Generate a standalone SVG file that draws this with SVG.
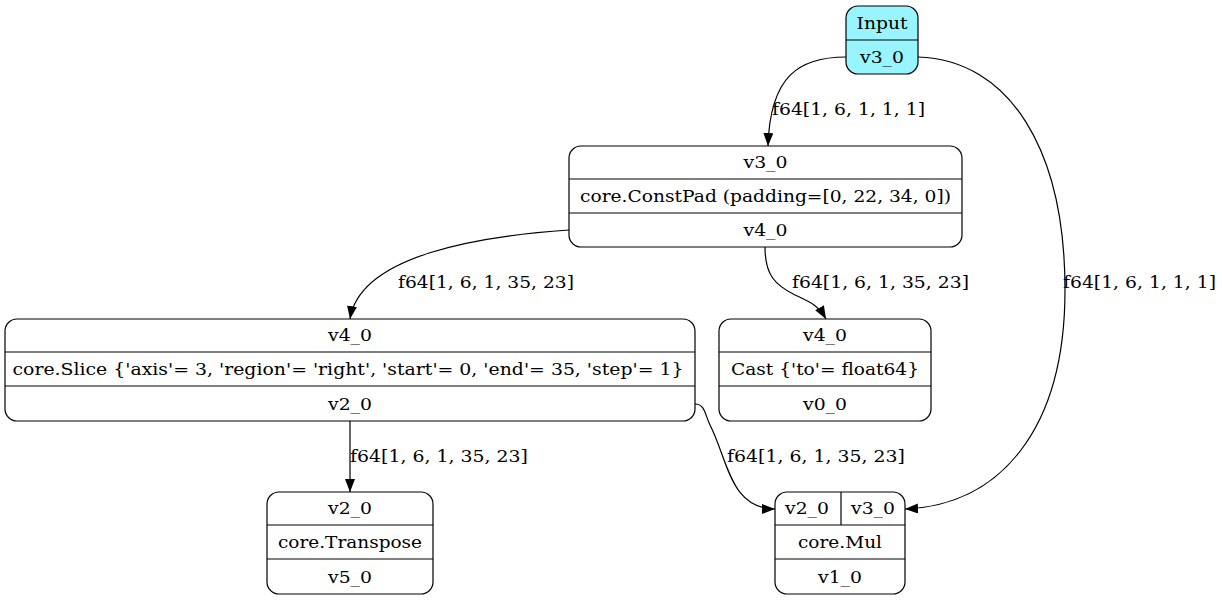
<svg xmlns="http://www.w3.org/2000/svg" width="1222" height="601" viewBox="0 0 1222 601">
<style>
text{font-family:"DejaVu Serif","Liberation Serif",serif;font-size:17px;fill:#000;text-anchor:middle}
.box{fill:#fff;stroke:#000;stroke-width:1.2}
.in{fill:#98f5ff}
.ln{stroke:#000;stroke-width:1.2;fill:none}
.e{stroke:#000;stroke-width:1.2;fill:none;marker-end:url(#ah)}
.lbl{text-anchor:start}
</style>
<defs>
<marker id="ah" markerUnits="userSpaceOnUse" markerWidth="14" markerHeight="12" refX="13" refY="5" orient="auto">
<path d="M0,0 L13,5 L0,10 Z" fill="#000"/>
</marker>
</defs>
<g id="connectors">
<path class="e" d="M846,57 C800,57 770,75 768,146"/>
<text class="lbl" x="772" y="115" textLength="153" lengthAdjust="spacingAndGlyphs">f64[1, 6, 1, 1, 1]</text>
<path class="e" d="M918,57 C1010,60 1065,150 1065,290 C1065,430 1000,505 905,509"/>
<text class="lbl" x="1063" y="288" textLength="153" lengthAdjust="spacingAndGlyphs">f64[1, 6, 1, 1, 1]</text>
<path class="e" d="M569,230 C480,236 360,255 350,319"/>
<text class="lbl" x="398" y="288" textLength="176" lengthAdjust="spacingAndGlyphs">f64[1, 6, 1, 35, 23]</text>
<path class="e" d="M765,247 C765,275 775,285 795,295 C810,302 818,305 826,319"/>
<text class="lbl" x="792" y="288" textLength="177" lengthAdjust="spacingAndGlyphs">f64[1, 6, 1, 35, 23]</text>
<path class="e" d="M350,421 L350,492"/>
<text class="lbl" x="350" y="462" textLength="178" lengthAdjust="spacingAndGlyphs">f64[1, 6, 1, 35, 23]</text>
<path class="e" d="M695,404 C705,404 705,415 710,425 C728,460 730,509 775,509"/>
<text class="lbl" x="727" y="462" textLength="178" lengthAdjust="spacingAndGlyphs">f64[1, 6, 1, 35, 23]</text>
</g>
<g id="input">
<rect class="box in" x="846" y="6" width="72" height="68" rx="12"/>
<line class="ln" x1="846" y1="40" x2="918" y2="40"/>
<text x="882" y="29" textLength="51" lengthAdjust="spacingAndGlyphs">Input</text>
<text x="882" y="63" textLength="44" lengthAdjust="spacingAndGlyphs">v3_0</text>
</g>
<g id="constpad">
<rect class="box" x="569" y="146" width="393" height="101" rx="12"/>
<line class="ln" x1="569" y1="179" x2="962" y2="179"/>
<line class="ln" x1="569" y1="213" x2="962" y2="213"/>
<text x="765.5" y="168" textLength="44" lengthAdjust="spacingAndGlyphs">v3_0</text>
<text x="765.5" y="202" textLength="371" lengthAdjust="spacingAndGlyphs">core.ConstPad (padding=[0, 22, 34, 0])</text>
<text x="765.5" y="236" textLength="44" lengthAdjust="spacingAndGlyphs">v4_0</text>
</g>
<g id="slice">
<rect class="box" x="5" y="319" width="690" height="102" rx="12"/>
<line class="ln" x1="5" y1="352" x2="695" y2="352"/>
<line class="ln" x1="5" y1="386" x2="695" y2="386"/>
<text x="350" y="341" textLength="44" lengthAdjust="spacingAndGlyphs">v4_0</text>
<text x="348" y="375" textLength="671" lengthAdjust="spacingAndGlyphs">core.Slice {'axis'= 3, 'region'= 'right', 'start'= 0, 'end'= 35, 'step'= 1}</text>
<text x="350" y="410" textLength="44" lengthAdjust="spacingAndGlyphs">v2_0</text>
</g>
<g id="cast">
<rect class="box" x="719" y="319" width="212" height="102" rx="12"/>
<line class="ln" x1="719" y1="352" x2="931" y2="352"/>
<line class="ln" x1="719" y1="386" x2="931" y2="386"/>
<text x="825" y="341" textLength="44" lengthAdjust="spacingAndGlyphs">v4_0</text>
<text x="825" y="375" textLength="188" lengthAdjust="spacingAndGlyphs">Cast {'to'= float64}</text>
<text x="825" y="410" textLength="44" lengthAdjust="spacingAndGlyphs">v0_0</text>
</g>
<g id="transpose">
<rect class="box" x="267" y="492" width="166" height="102" rx="12"/>
<line class="ln" x1="267" y1="525" x2="433" y2="525"/>
<line class="ln" x1="267" y1="559" x2="433" y2="559"/>
<text x="350" y="514" textLength="44" lengthAdjust="spacingAndGlyphs">v2_0</text>
<text x="350" y="548" textLength="144" lengthAdjust="spacingAndGlyphs">core.Transpose</text>
<text x="350" y="583" textLength="44" lengthAdjust="spacingAndGlyphs">v5_0</text>
</g>
<g id="mul">
<rect class="box" x="775" y="492" width="130" height="102" rx="12"/>
<line class="ln" x1="775" y1="525" x2="905" y2="525"/>
<line class="ln" x1="775" y1="559" x2="905" y2="559"/>
<line class="ln" x1="841" y1="492" x2="841" y2="525"/>
<text x="807" y="514" textLength="44" lengthAdjust="spacingAndGlyphs">v2_0</text>
<text x="873" y="514" textLength="44" lengthAdjust="spacingAndGlyphs">v3_0</text>
<text x="840" y="548" textLength="84" lengthAdjust="spacingAndGlyphs">core.Mul</text>
<text x="840" y="583" textLength="44" lengthAdjust="spacingAndGlyphs">v1_0</text>
</g>
</svg>
